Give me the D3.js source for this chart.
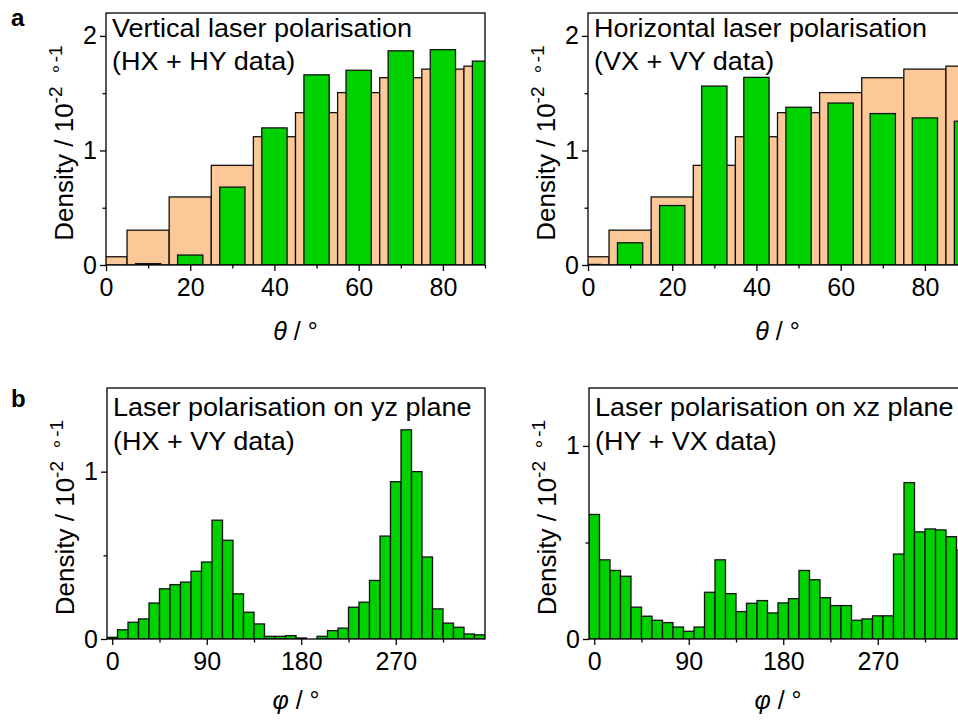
<!DOCTYPE html>
<html>
<head>
<meta charset="utf-8">
<script src="https://cdn.jsdelivr.net/npm/d3@7"></script>
<style>
  body { margin: 0; background: #fff; }
  svg { display: block; font-family: "Liberation Sans", Arial, sans-serif; }
</style>
</head>
<body>
<script>
/* theta histograms (bin centres in degrees, density in 10^-2 per degree) */
var thetaBins = [0, 10, 20, 30, 40, 50, 60, 70, 80, 90];
var isotropicRef = [0.072, 0.304, 0.594, 0.870, 1.120, 1.330, 1.505, 1.635, 1.710, 1.736];
var vertPol = [0, 0.012, 0.087, 0.68, 1.197, 1.66, 1.70, 1.87, 1.88, 1.78];
var horizPol = [0.005, 0.194, 0.519, 1.562, 1.638, 1.377, 1.414, 1.322, 1.284, 1.255];

/* phi histograms, 10 degree bins centred on 0..350 */
var phiBins = d3.range(0, 360, 10);
var yzPlane = [0.01, 0.055, 0.10, 0.12, 0.215, 0.30, 0.325, 0.34, 0.405, 0.46,
               0.71, 0.59, 0.27, 0.16, 0.09, 0.016, 0.016, 0.02, 0.006, 0,
               0.016, 0.05, 0.065, 0.19, 0.22, 0.35, 0.615, 0.94, 1.25, 1.0,
               0.49, 0.18, 0.095, 0.07, 0.03, 0.025];
var xzPlane = [0.645, 0.41, 0.355, 0.325, 0.165, 0.118, 0.097, 0.085, 0.062, 0.04,
               0.062, 0.242, 0.41, 0.235, 0.142, 0.185, 0.199, 0.135, 0.187, 0.209,
               0.355, 0.307, 0.214, 0.173, 0.173, 0.097, 0.104, 0.12, 0.12, 0.44,
               0.81, 0.555, 0.57, 0.565, 0.53, 0.46];

var thetaMajor = [0, 20, 40, 60, 80], thetaMinor = [10, 30, 50, 70, 90];
var phiMajor = [0, 90, 180, 270], phiMinor = [45, 135, 225, 315];

var width = 958, height = 720;
var green = "#00d200", peach = "#fcc898";
var fontSize = 25;

var svg = d3.select("body").append("svg")
    .attr("width", width)
    .attr("height", height);

var panels = [
  { left: 106, top: 13, w: 379, h: 252, xDomain: [0, 90], yDomain: [0, 2.2],
    xMajor: thetaMajor, xMinor: thetaMinor, yMajor: [0, 1, 2], yMinor: [0.5, 1.5],
    bins: thetaBins,
    series: [{ values: isotropicRef, binWidth: 10, fill: peach },
             { values: vertPol, binWidth: 6, fill: green }],
    title: ["Vertical laser polarisation", "(HX + HY data)"], titleY: [37, 70],
    sym: "θ", xlabelY: 340 },
  { left: 588, top: 13, w: 379, h: 252, xDomain: [0, 90], yDomain: [0, 2.2],
    xMajor: thetaMajor, xMinor: thetaMinor, yMajor: [0, 1, 2], yMinor: [0.5, 1.5],
    bins: thetaBins,
    series: [{ values: isotropicRef, binWidth: 10, fill: peach },
             { values: horizPol, binWidth: 6, fill: green }],
    title: ["Horizontal laser polarisation", "(VX + VY data)"], titleY: [37, 70],
    sym: "θ", xlabelY: 340 },
  { left: 107, top: 388, w: 378, h: 251, xDomain: [-5, 355], yDomain: [0, 1.5],
    xMajor: phiMajor, xMinor: phiMinor, yMajor: [0, 1], yMinor: [0.5],
    bins: phiBins,
    series: [{ values: yzPlane, binWidth: 10, fill: green }],
    title: ["Laser polarisation on yz plane", "(HX + VY data)"], titleY: [416, 450],
    sym: "φ", xlabelY: 709 },
  { left: 589, top: 388, w: 378, h: 251, xDomain: [-5, 355], yDomain: [0, 1.3],
    xMajor: phiMajor, xMinor: phiMinor, yMajor: [0, 1], yMinor: [0.5],
    bins: phiBins,
    series: [{ values: xzPlane, binWidth: 10, fill: green }],
    title: ["Laser polarisation on xz plane", "(HY + VX data)"], titleY: [416, 450],
    sym: "φ", xlabelY: 709 }
];

function styleAxis(g) {
  g.select(".domain").remove();
  g.attr("font-size", fontSize).attr("font-family", null);
  g.selectAll("line").attr("stroke", "#000").attr("stroke-width", 1.3);
  g.selectAll("text").attr("fill", "#000");
}

panels.forEach(function(p, k) {
  var x = d3.scaleLinear().domain(p.xDomain).range([p.left, p.left + p.w]);
  var y = d3.scaleLinear().domain(p.yDomain).range([p.top + p.h, p.top]);

  var clipId = "clip" + k;
  svg.append("clipPath").attr("id", clipId)
    .append("rect")
    .attr("x", p.left).attr("y", p.top)
    .attr("width", p.w).attr("height", p.h);

  var plot = svg.append("g").attr("clip-path", "url(#" + clipId + ")");

  p.series.forEach(function(s) {
    plot.append("g").selectAll("rect")
      .data(s.values)
      .enter().append("rect")
      .attr("x", function(d, i) { return x(p.bins[i] - s.binWidth / 2); })
      .attr("width", function(d, i) { return x(p.bins[i] + s.binWidth / 2) - x(p.bins[i] - s.binWidth / 2); })
      .attr("y", function(d) { return y(d); })
      .attr("height", function(d) { return y(0) - y(d); })
      .attr("fill", s.fill)
      .attr("stroke", "#111")
      .attr("stroke-width", 1.3);
  });

  // frame
  svg.append("rect")
    .attr("x", p.left).attr("y", p.top)
    .attr("width", p.w).attr("height", p.h)
    .attr("fill", "none").attr("stroke", "#000").attr("stroke-width", 1.3);

  var base = p.top + p.h;
  svg.append("g").attr("transform", "translate(0," + base + ")")
    .call(d3.axisBottom(x).tickValues(p.xMajor).tickSize(6).tickPadding(7).tickSizeOuter(0))
    .call(styleAxis);
  svg.append("g").attr("transform", "translate(0," + base + ")")
    .call(d3.axisBottom(x).tickValues(p.xMinor).tickSize(3.5).tickFormat("").tickSizeOuter(0))
    .call(styleAxis);
  svg.append("g").attr("transform", "translate(" + p.left + ",0)")
    .call(d3.axisLeft(y).tickValues(p.yMajor).tickSize(6).tickPadding(3).tickFormat(d3.format("d")).tickSizeOuter(0))
    .call(styleAxis);
  svg.append("g").attr("transform", "translate(" + p.left + ",0)")
    .call(d3.axisLeft(y).tickValues(p.yMinor).tickSize(3.5).tickFormat("").tickSizeOuter(0))
    .call(styleAxis);

  // title inside the plot (slightly wide lettering like the original)
  p.title.forEach(function(t, i) {
    svg.append("text")
      .attr("transform", "translate(" + (p.left + 6) + "," + p.titleY[i] + ") scale(1.08,1)")
      .attr("font-size", fontSize)
      .text(t);
  });

  // x label
  var xl = svg.append("text")
    .attr("x", p.left + p.w / 2).attr("y", p.xlabelY)
    .attr("text-anchor", "middle")
    .attr("font-size", fontSize);
  xl.append("tspan").attr("font-style", "italic").text(p.sym);
  xl.append("tspan").text(" / °");

  // y label
  var yl = svg.append("text")
    .attr("transform", "translate(" + (p.left - 33) + "," + (p.top + p.h / 2 + 4) + ") rotate(-90)")
    .attr("text-anchor", "middle")
    .attr("font-size", 26);
  yl.append("tspan").text("Density / 10");
  yl.append("tspan").attr("font-size", 19).attr("dy", -11).text("-2");
  yl.append("tspan").attr("font-size", 19).attr("dx", 6).text(" \u2218");
  yl.append("tspan").attr("font-size", 19).attr("dx", 1).text("-1");
});

svg.append("text").attr("x", 11).attr("y", 26)
  .attr("font-size", 24).attr("font-weight", "bold").text("a");
svg.append("text").attr("x", 11).attr("y", 407)
  .attr("font-size", 24).attr("font-weight", "bold").text("b");
</script>
</body>
</html>
